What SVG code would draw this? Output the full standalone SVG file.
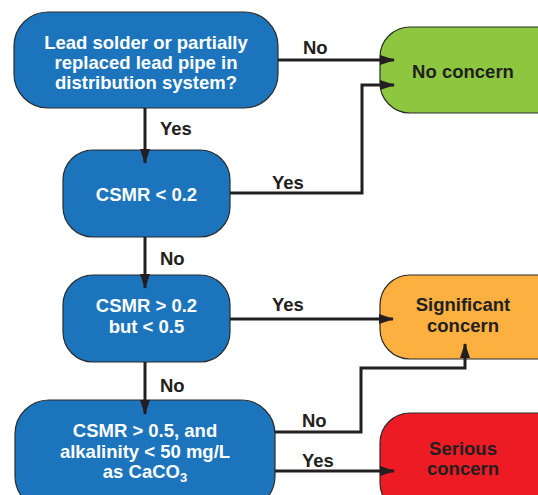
<svg xmlns="http://www.w3.org/2000/svg" width="538" height="495" viewBox="0 0 538 495">
<defs>
<style>
.blue{fill:#1c75bc;stroke:#2b2b2b;stroke-width:1.2}
.wt{fill:#fff;font-family:"Liberation Sans",Arial,sans-serif;font-weight:bold;font-size:18.5px;text-anchor:middle}
.dt{fill:#231f20;font-family:"Liberation Sans",Arial,sans-serif;font-weight:bold;font-size:18.5px;text-anchor:middle}
.lbl{fill:#231f20;font-family:"Liberation Sans",Arial,sans-serif;font-weight:bold;font-size:18.5px}
.ln{fill:none;stroke:#231f20;stroke-width:3}
</style>
<marker id="ah" viewBox="0 0 15 10" refX="14" refY="5" markerWidth="15" markerHeight="10" markerUnits="userSpaceOnUse" orient="auto">
<path d="M0,0 L15,5 L0,10 Z" fill="#231f20"/>
</marker>
</defs>
<rect width="538" height="495" fill="#fff"/>
<g id="q1">
<rect class="blue" x="14" y="12" width="264" height="96" rx="34"/>
<text class="wt" x="146" y="49">Lead solder or partially</text>
<text class="wt" x="146" y="69">replaced lead pipe in</text>
<text class="wt" x="146" y="89">distribution system?</text>
</g>
<g id="q2">
<rect class="blue" x="63" y="150" width="167" height="87" rx="30"/>
<text class="wt" x="146.5" y="201">CSMR &lt; 0.2</text>
</g>
<g id="q3">
<rect class="blue" x="63" y="275" width="167" height="87" rx="30"/>
<text class="wt" x="146.5" y="312">CSMR &gt; 0.2</text>
<text class="wt" x="146.5" y="333">but &lt; 0.5</text>
</g>
<g id="q4">
<rect class="blue" x="15" y="400" width="260" height="110" rx="34"/>
<text class="wt" x="145" y="437">CSMR &gt; 0.5, and</text>
<text class="wt" x="145" y="458">alkalinity &lt; 50 mg/L</text>
<text class="wt" x="145" y="478">as CaCO<tspan font-size="13" dy="4">3</tspan></text>
</g>
<g id="no-concern">
<rect x="380" y="27" width="190" height="86" rx="30" fill="#8dc63f" stroke="#2b2b2b" stroke-width="1.2"/>
<text class="dt" x="463" y="78">No concern</text>
</g>
<g id="significant">
<rect x="380" y="275" width="190" height="84" rx="30" fill="#fbb040" stroke="#2b2b2b" stroke-width="1.2"/>
<text class="dt" x="463" y="311">Significant</text>
<text class="dt" x="463" y="332">concern</text>
</g>
<g id="serious">
<rect x="380" y="413" width="190" height="100" rx="30" fill="#ed1c24" stroke="#2b2b2b" stroke-width="1.2"/>
<text class="dt" x="463" y="455">Serious</text>
<text class="dt" x="463" y="475">concern</text>
</g>
<g id="connectors">
<path class="ln" d="M278,60 H394" marker-end="url(#ah)"/>
<path class="ln" d="M230,193 H362 V85 H394" marker-end="url(#ah)"/>
<path class="ln" d="M145,108 V163" marker-end="url(#ah)"/>
<path class="ln" d="M145,237 V288" marker-end="url(#ah)"/>
<path class="ln" d="M145,362 V414" marker-end="url(#ah)"/>
<path class="ln" d="M230,319 H393" marker-end="url(#ah)"/>
<path class="ln" d="M275,432 H361 V368 H465 V344" marker-end="url(#ah)"/>
<path class="ln" d="M275,471 H394" marker-end="url(#ah)"/>
<text class="lbl" x="160" y="135">Yes</text>
<text class="lbl" x="303" y="54">No</text>
<text class="lbl" x="272" y="189">Yes</text>
<text class="lbl" x="160" y="265">No</text>
<text class="lbl" x="272" y="311">Yes</text>
<text class="lbl" x="160" y="392">No</text>
<text class="lbl" x="302" y="427">No</text>
<text class="lbl" x="302" y="467">Yes</text>
</g>
</svg>
